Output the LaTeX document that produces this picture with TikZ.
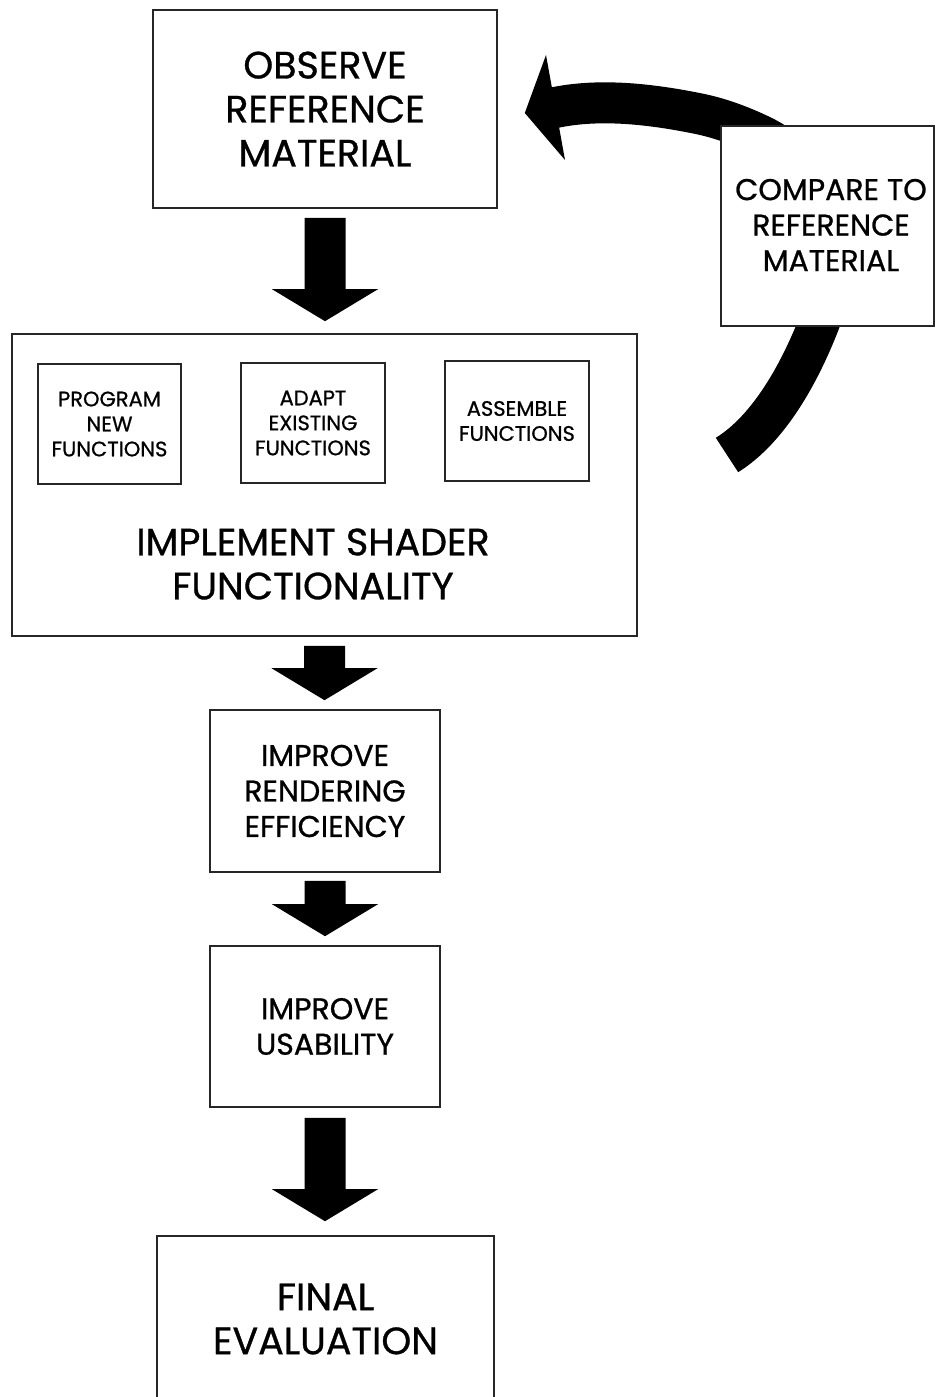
\documentclass[tikz,border=0pt]{standalone}
\usepackage{fontspec}
\setmainfont{Poppins}[FakeBold=0.8]
\usetikzlibrary{calc}
\begin{document}
\begin{tikzpicture}[x=1pt,y=-1pt,
  box/.style={draw=black!85,line width=1.6pt,fill=white,inner sep=0pt,align=center},
  big/.style={font=\fontsize{38}{44}\selectfont},
  mid/.style={font=\fontsize{30}{35.5}\selectfont},
  small/.style={font=\fontsize{21}{25}\selectfont},
  lbl/.style={inner sep=0pt,align=center},
  blockarr/.style={fill=black,
    to path={let \p1=(\tikztostart),\p2=(\tikztotarget) in
      (\x1-20.5pt,\y1) -- (\x1+20.5pt,\y1) -- (\x1+20.5pt,\y2+32pt) -- (\x1+53pt,\y2+32pt)
      -- (\x1,\y2) -- (\x1-53pt,\y2+32pt) -- (\x1-20.5pt,\y2+32pt) -- cycle}},
]
\useasboundingbox (0,0) rectangle (935,1397);
\clip (0,0) rectangle (935,1397);

\node[box,big,minimum width=344pt,minimum height=198pt] (obs) at (325,109) {OBSERVE\\REFERENCE\\MATERIAL};

% feedback loop
\coordinate (loopend) at (727,455);
\draw[line width=41pt,line cap=butt,line join=round] (loopend)
  .. controls (769.5,428.5) and (799.5,372.5) .. (818,326)
  .. controls (829.8,296.2) and (836.6,262) .. (835,230)
  .. controls (833,190) and (796,152) .. (760,135)
  .. controls (741,126) and (720.4,118.2) .. (700,114)
  .. controls (653.4,104.4) and (599.8,97.7) .. (553,108);
\fill (546,55) -- ([xshift=27pt,yshift=-4pt]obs.east) -- (565,160) -- cycle;

\node[box,minimum width=213pt,minimum height=200pt] (cmp) at (827.5,226) {};
\node[lbl,mid] (cmptext) at (831,225) {COMPARE TO\\REFERENCE\\MATERIAL};

\node[box,minimum width=625pt,minimum height=302pt] (impl) at (324.5,485) {};
\node[lbl,big] (impltext) at (313,564) {IMPLEMENT SHADER\\FUNCTIONALITY};
\node[box,small,minimum width=143pt,minimum height=120pt] (prog) at (109.5,424) {PROGRAM\\NEW\\FUNCTIONS};
\node[box,small,minimum width=144pt,minimum height=120pt] (adapt) at (313,423) {ADAPT\\EXISTING\\FUNCTIONS};
\node[box,small,minimum width=144pt,minimum height=120pt] (asm) at (517,421) {ASSEMBLE\\FUNCTIONS};

\node[box,mid,minimum width=230pt,minimum height=162pt] (rend) at (325,791) {IMPROVE\\RENDERING\\EFFICIENCY};
\node[box,mid,minimum width=230pt,minimum height=161pt] (usab) at (325,1026.5) {IMPROVE\\USABILITY};
\node[box,big,minimum width=337pt,minimum height=166pt] (final) at (325.5,1319) {FINAL\\EVALUATION};

\path[blockarr] ([yshift=-9pt]obs.south) to ([yshift=12pt]impl.north);
\path[blockarr] ([yshift=-9pt]impl.south) to ([yshift=9pt]rend.north);
\path[blockarr] ([yshift=-8pt]rend.south) to ([yshift=9pt]usab.north);
\path[blockarr] ([yshift=-10pt]usab.south) to ([yshift=14pt]final.north);
\end{tikzpicture}
\end{document}
